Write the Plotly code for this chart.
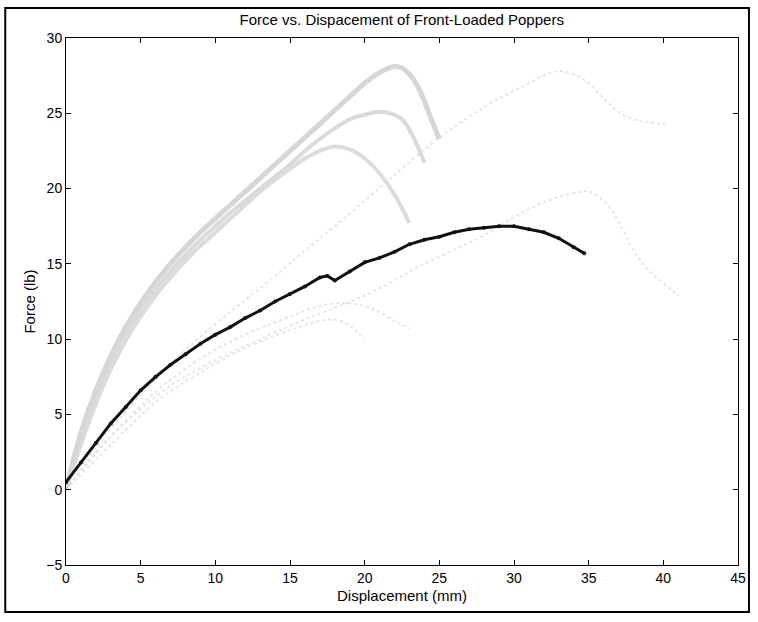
import plotly.graph_objects as go

# ---- data ----
black_x = [0, 1, 2, 3, 4, 5, 6, 7, 8, 9, 10, 11, 12, 13, 14, 15, 16, 17, 17.5, 18, 19, 20, 21, 22, 23, 24, 25, 26, 27, 28, 29, 30, 31, 32, 33, 34, 34.7]
black_y = [0.5, 1.8, 3.1, 4.4, 5.5, 6.6, 7.5, 8.3, 9.0, 9.7, 10.3, 10.8, 11.4, 11.9, 12.5, 13.0, 13.5, 14.1, 14.2, 13.9, 14.5, 15.1, 15.4, 15.8, 16.3, 16.6, 16.8, 17.1, 17.3, 17.4, 17.5, 17.5, 17.3, 17.1, 16.7, 16.1, 15.7]

a_x = [0, 1, 2, 3, 4, 5, 6, 7, 8, 9, 10, 11, 12, 13, 14, 15, 16, 17, 18, 19, 20, 21, 22, 22.5, 23, 23.5, 24, 24.5, 25]
a_y = [0, 3.8, 6.6, 8.9, 10.8, 12.4, 13.8, 15.0, 16.1, 17.1, 18.0, 18.9, 19.8, 20.7, 21.6, 22.5, 23.4, 24.3, 25.2, 26.1, 27.0, 27.7, 28.1, 28.0, 27.6, 26.9, 25.8, 24.5, 23.3]

b_x = [0, 1, 2, 3, 4, 5, 6, 7, 8, 9, 10, 11, 12, 13, 14, 15, 16, 17, 18, 19, 20, 21, 22, 22.5, 23, 23.5, 24]
b_y = [0, 3.3, 6.1, 8.4, 10.3, 11.9, 13.3, 14.5, 15.6, 16.6, 17.5, 18.4, 19.2, 20.0, 20.8, 21.6, 22.5, 23.3, 24.0, 24.6, 24.9, 25.1, 24.9, 24.6, 23.9, 22.9, 21.7]

c_x = [0, 1, 2, 3, 4, 5, 6, 7, 8, 9, 10, 11, 12, 13, 14, 15, 16, 17, 18, 19, 20, 21, 22, 22.5, 23]
c_y = [0, 3.0, 5.7, 8.0, 9.9, 11.5, 12.9, 14.1, 15.2, 16.2, 17.1, 18.0, 18.9, 19.8, 20.6, 21.3, 22.0, 22.5, 22.8, 22.6, 22.0, 21.0, 19.6, 18.7, 17.7]

d_x = [0, 2, 4, 6, 8, 10, 12, 14, 16, 18, 20, 22, 24, 26, 28, 30, 31, 32, 33, 34, 35, 36, 37, 38, 39, 40.1]
d_y = [0, 2.8, 5.2, 7.3, 9.3, 11.0, 12.6, 14.2, 15.9, 17.5, 19.2, 20.9, 22.6, 24.1, 25.4, 26.5, 27.0, 27.5, 27.8, 27.6, 27.0, 26.0, 25.1, 24.6, 24.4, 24.3]

f_x = [0, 2, 4, 7, 10, 13, 16, 20, 24, 28, 30, 32, 34, 35, 36, 37, 38, 39, 40.5, 41]
f_y = [0, 2.5, 4.5, 6.9, 8.6, 10.0, 11.3, 12.9, 15.0, 16.9, 18.1, 19.1, 19.7, 19.8, 19.2, 17.8, 15.9, 14.6, 13.3, 12.9]

g_x = [0, 3, 6, 9, 12, 15, 17, 18.5, 20, 21, 22, 23]
g_y = [0, 3.5, 6.5, 8.7, 10.3, 11.5, 12.2, 12.4, 12.2, 11.8, 11.2, 10.7]

h_x = [0, 3, 6, 9, 12, 15, 17, 18, 19, 20]
h_y = [0, 3.0, 5.8, 7.8, 9.4, 10.6, 11.2, 11.3, 10.9, 10.0]

x_ticks = [0, 5, 10, 15, 20, 25, 30, 35, 40, 45]
y_ticks = [-5, 0, 5, 10, 15, 20, 25, 30]

FONT = "Liberation Sans Narrow, Arial Narrow, Liberation Sans, Arial"

fig = go.Figure()

# faint dotted series
for xs, ys in [(d_x, d_y), (f_x, f_y), (g_x, g_y), (h_x, h_y)]:
    fig.add_trace(go.Scatter(x=xs, y=ys, mode="lines", line_shape="spline",
                             line=dict(color="#e6e6e6", width=2, dash="dot"),
                             showlegend=False, hoverinfo="skip"))

# light gray band series
fig.add_trace(go.Scatter(x=c_x, y=c_y, mode="lines", line_shape="spline",
                         line=dict(color="#dcdcdc", width=4), showlegend=False))
fig.add_trace(go.Scatter(x=b_x, y=b_y, mode="lines", line_shape="spline",
                         line=dict(color="#dadada", width=4), showlegend=False))
fig.add_trace(go.Scatter(x=a_x, y=a_y, mode="lines", line_shape="spline",
                         line=dict(color="#d6d6d6", width=5), showlegend=False))

# black series
fig.add_trace(go.Scatter(x=black_x, y=black_y, mode="lines+markers",
                         line=dict(color="#111111", width=3),
                         marker=dict(color="#111111", size=4),
                         showlegend=False))

axis_common = dict(
    showline=True, linecolor="black", linewidth=1, mirror="ticks",
    ticks="inside", ticklen=5, tickcolor="black",
    showgrid=False, zeroline=False,
    tickfont=dict(family=FONT, size=14, color="black"),
)

fig.update_layout(
    width=758, height=622,
    margin=dict(l=66, r=17, t=38, b=57),
    paper_bgcolor="white", plot_bgcolor="white",
    title=dict(text="Force vs. Dispacement of Front-Loaded Poppers",
               x=0.53, xanchor="center", y=0.968, yanchor="middle",
               font=dict(family=FONT, size=15, color="black")),
    xaxis=dict(range=[0, 45], tickvals=x_ticks,
               title=dict(text="Displacement (mm)", standoff=5,
                          font=dict(family=FONT, size=15, color="black")),
               **axis_common),
    yaxis=dict(range=[-5, 30], tickvals=y_ticks,
               title=dict(text="Force (lb)", standoff=6,
                          font=dict(family=FONT, size=15, color="black")),
               **axis_common),
    shapes=[dict(type="rect", xref="paper", yref="paper",
                 x0=-0.0904, x1=1.0163, y0=-0.089, y1=1.0569,
                 line=dict(color="black", width=2), fillcolor="rgba(0,0,0,0)",
                 layer="below")],
)

fig.write_html("out.html")
